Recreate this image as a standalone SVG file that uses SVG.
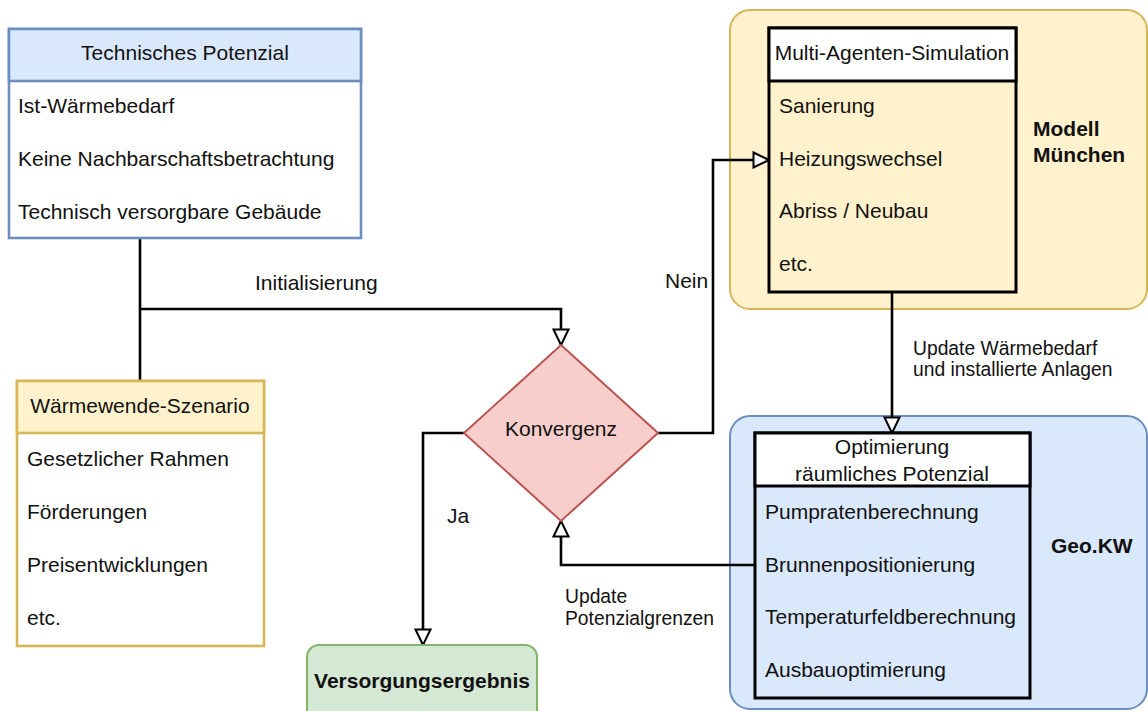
<svg xmlns="http://www.w3.org/2000/svg" width="1148" height="711" viewBox="0 0 1148 711">
<style>
text{font-family:"Liberation Sans",Arial,sans-serif;font-size:21px;fill:#111}
.b{font-weight:bold}
.c{text-anchor:middle}
.s{font-size:19.3px}
.conn{fill:none;stroke:#000;stroke-width:2.6}
.box{stroke-width:2.6}
</style>
<defs>
<marker id="arr" markerUnits="userSpaceOnUse" viewBox="0 0 18 18" markerWidth="18" markerHeight="18" refX="17" refY="9" orient="auto">
<path d="M1.5,1.5 L17,9 L1.5,16.5 Z" fill="#fff" stroke="#000" stroke-width="2"/>
</marker>
</defs>
<g id="modell-muenchen">
<rect x="730" y="10" width="417" height="299" rx="20" fill="#fff2cc" stroke="#d6b656" stroke-width="2"/>
<text class="b" x="1033" y="136">Modell</text>
<text class="b" x="1033" y="162">München</text>
</g>
<g id="geo-kw">
<rect x="730" y="416" width="417" height="293" rx="20" fill="#dae8fc" stroke="#6c8ebf" stroke-width="2"/>
<text class="b" x="1051" y="553">Geo.KW</text>
</g>
<g id="connectors">
<path class="conn" d="M140,239 V381"/>
<path class="conn" d="M140,309 H561 V345" marker-end="url(#arr)"/>
<path class="conn" d="M464,433 H423 V645" marker-end="url(#arr)"/>
<path class="conn" d="M658,433 H713 V160 H769" marker-end="url(#arr)"/>
<path class="conn" d="M892,292 V433" marker-end="url(#arr)"/>
<path class="conn" d="M755,565 H561 V521" marker-end="url(#arr)"/>
<text x="255" y="290">Initialisierung</text>
<text x="665" y="288">Nein</text>
<text x="447" y="523">Ja</text>
<text class="s" x="913" y="355">Update Wärmebedarf</text>
<text class="s" x="913" y="376">und installierte Anlagen</text>
<text class="s" x="565" y="603">Update</text>
<text class="s" x="565" y="625">Potenzialgrenzen</text>
</g>
<g id="technisches-potenzial">
<rect class="box" x="9" y="29" width="352" height="209" fill="#fff" stroke="#6c8ebf"/>
<rect class="box" x="9" y="29" width="352" height="52" fill="#dae8fc" stroke="#6c8ebf"/>
<text class="c" x="185" y="60">Technisches Potenzial</text>
<text x="18" y="113">Ist-Wärmebedarf</text>
<text x="18" y="166">Keine Nachbarschaftsbetrachtung</text>
<text x="18" y="219">Technisch versorgbare Gebäude</text>
</g>
<g id="waermewende-szenario">
<rect class="box" x="17" y="381" width="247" height="265" fill="#fff" stroke="#d6b656"/>
<rect class="box" x="17" y="381" width="247" height="52" fill="#fff2cc" stroke="#d6b656"/>
<text class="c" x="140" y="413">Wärmewende-Szenario</text>
<text x="27" y="466">Gesetzlicher Rahmen</text>
<text x="27" y="519">Förderungen</text>
<text x="27" y="572">Preisentwicklungen</text>
<text x="27" y="625">etc.</text>
</g>
<g id="konvergenz">
<path d="M561,345 L658,433 L561,521 L464,433 Z" fill="#f8cecc" stroke="#b85450" stroke-width="2"/>
<text class="c" x="561" y="436">Konvergenz</text>
</g>
<g id="versorgungsergebnis">
<rect x="307" y="645" width="230" height="80" rx="12" fill="#d5e8d4" stroke="#82b366" stroke-width="2"/>
<text class="b c" x="422" y="688">Versorgungsergebnis</text>
</g>
<g id="multi-agenten-simulation">
<rect x="769" y="28" width="247" height="264" fill="none" stroke="#000" stroke-width="3"/>
<rect x="769" y="28" width="247" height="53" fill="#fff" stroke="#000" stroke-width="3"/>
<text class="c" x="892" y="60">Multi-Agenten-Simulation</text>
<text x="779" y="113">Sanierung</text>
<text x="779" y="166">Heizungswechsel</text>
<text x="779" y="218">Abriss / Neubau</text>
<text x="779" y="271">etc.</text>
</g>
<g id="optimierung">
<rect x="755" y="433" width="275" height="265" fill="none" stroke="#000" stroke-width="3"/>
<rect x="755" y="433" width="275" height="53" fill="#fff" stroke="#000" stroke-width="3"/>
<text class="c" x="892" y="454">Optimierung</text>
<text class="c" x="892" y="481">räumliches Potenzial</text>
<text x="765" y="519">Pumpratenberechnung</text>
<text x="765" y="572">Brunnenpositionierung</text>
<text x="765" y="624">Temperaturfeldberechnung</text>
<text x="765" y="677">Ausbauoptimierung</text>
</g>
</svg>
